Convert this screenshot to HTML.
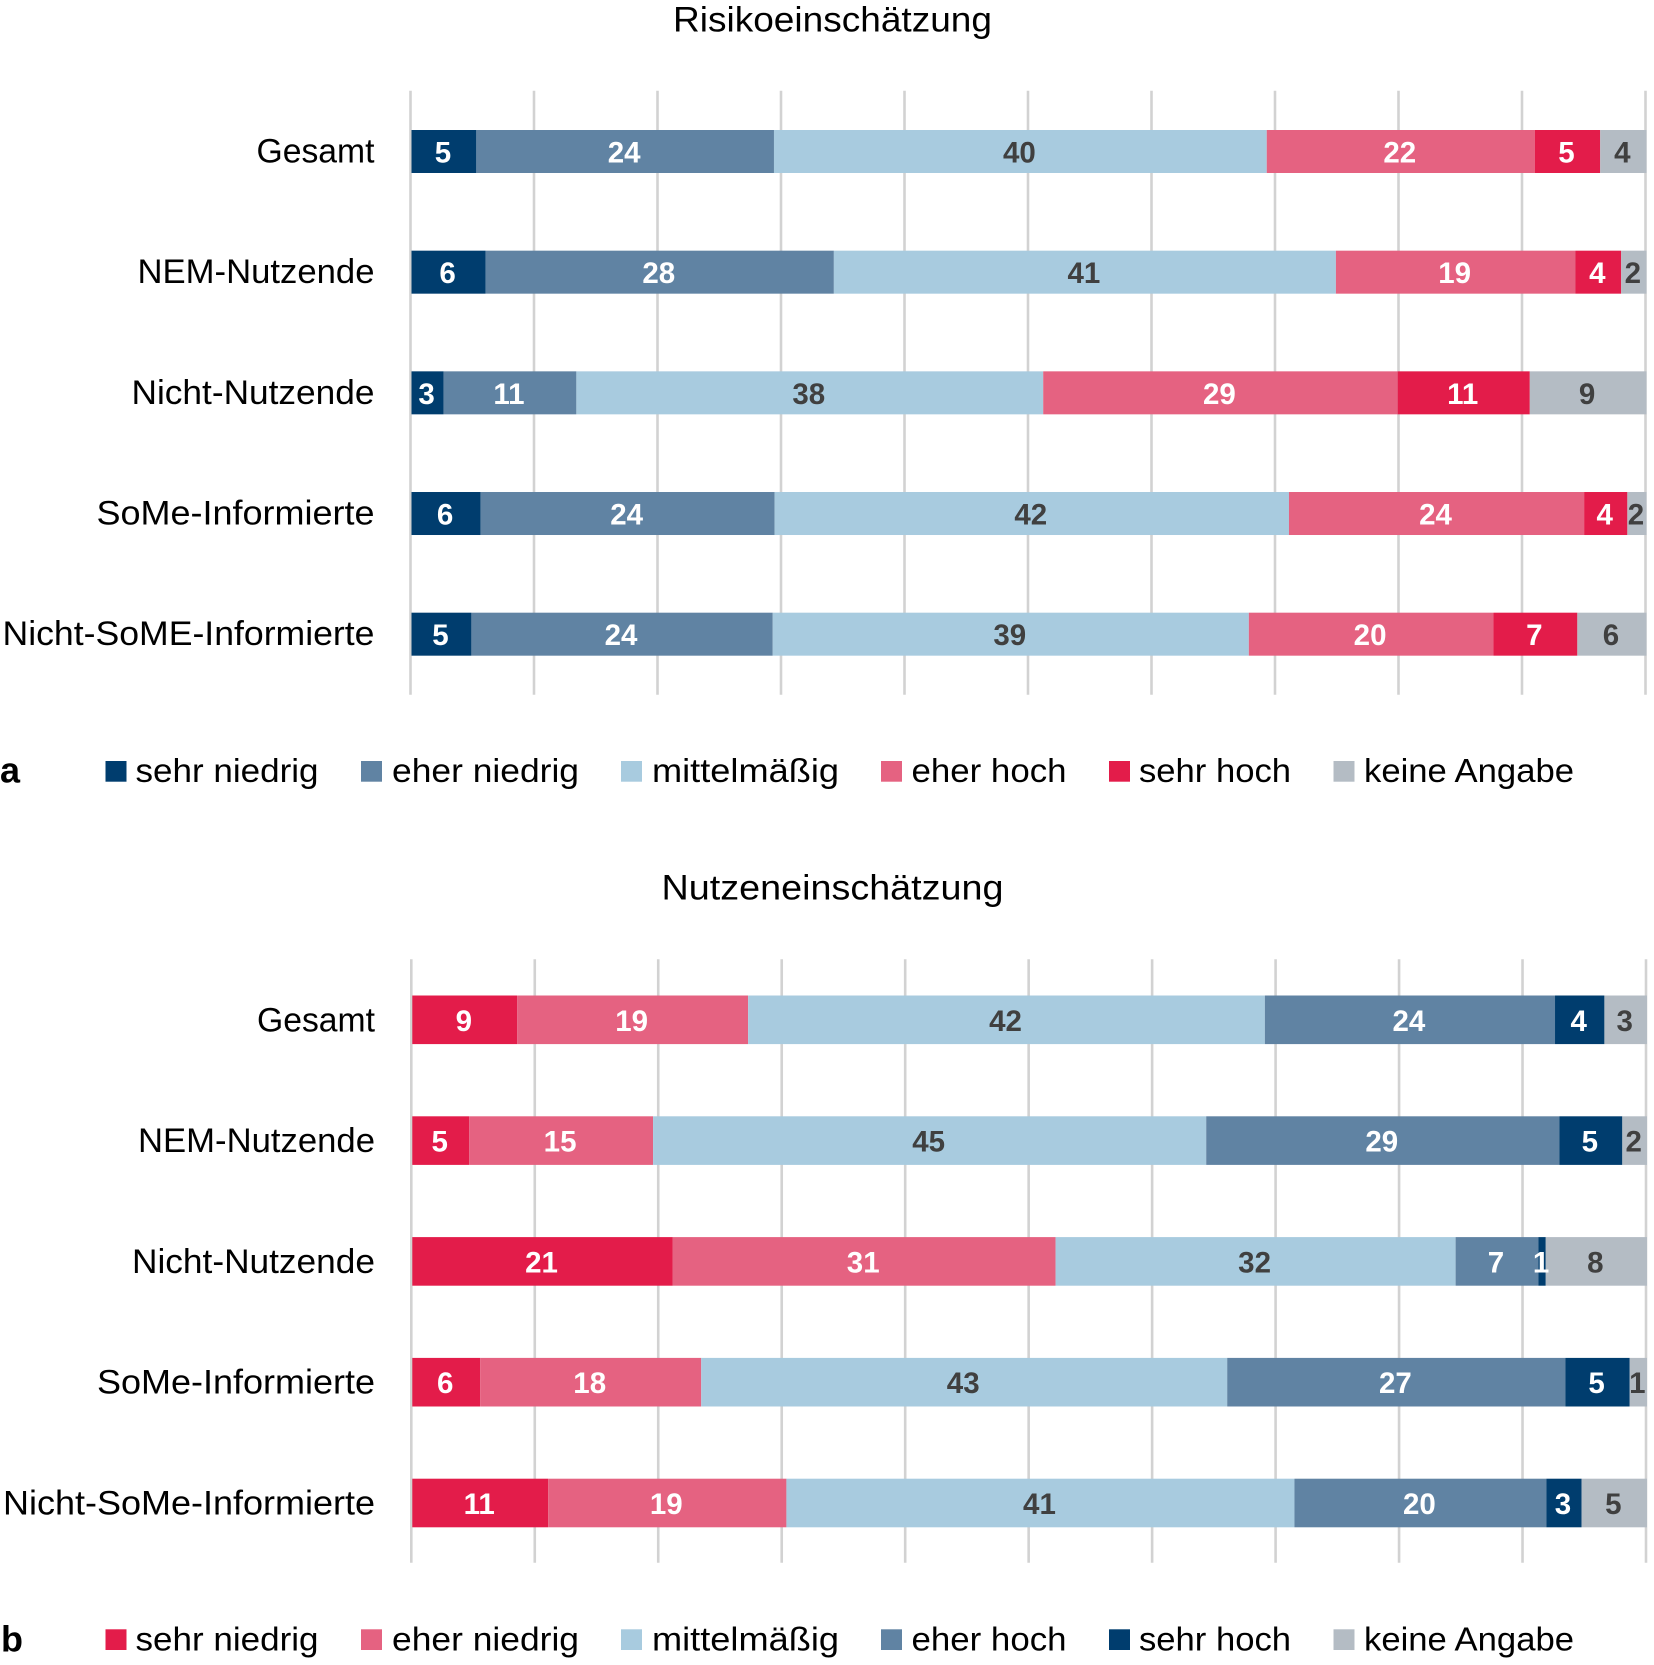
<!DOCTYPE html>
<html lang="de">
<head>
<meta charset="utf-8">
<title>Risiko- und Nutzeneinschätzung</title>
<style>
html,body{margin:0;padding:0;background:#fff;}
svg{display:block;}
text{font-family:"Liberation Sans",sans-serif;}
</style>
</head>
<body>
<svg id="chart" xmlns="http://www.w3.org/2000/svg" width="1654" height="1665" viewBox="0 0 1654 1665">
  <rect x="0" y="0" width="1654" height="1665" fill="#ffffff"/>
  <text x="832.5" y="31.5" font-size="35" fill="#000" text-anchor="middle" textLength="319" lengthAdjust="spacingAndGlyphs">Risikoeinschätzung</text>
  <text x="832.5" y="899.5" font-size="35" fill="#000" text-anchor="middle" textLength="342" lengthAdjust="spacingAndGlyphs">Nutzeneinschätzung</text>
  <text x="0" y="782.5" font-size="36" font-weight="bold" fill="#000">a</text>
  <text x="1" y="1651.5" font-size="36" font-weight="bold" fill="#000">b</text>
  <g id="panel-a"></g>
  <g id="panel-b"></g>
</svg>
<script>
const categoriesA = ["Gesamt", "NEM-Nutzende", "Nicht-Nutzende", "SoMe-Informierte", "Nicht-SoME-Informierte"];
const categoriesB = ["Gesamt", "NEM-Nutzende", "Nicht-Nutzende", "SoMe-Informierte", "Nicht-SoMe-Informierte"];
const xTicks = [0, 10, 20, 30, 40, 50, 60, 70, 80, 90, 100];

const legendNames = ["sehr niedrig", "eher niedrig", "mittelmäßig", "eher hoch", "sehr hoch", "keine Angabe"];

const riskSehrNiedrig = [5.25, 6.0, 2.6, 5.6, 4.85];
const riskEherNiedrig = [24.1, 28.2, 10.75, 23.8, 24.4];
const riskMittel = [39.9, 40.65, 37.8, 41.65, 38.55];
const riskEherHoch = [21.7, 19.4, 28.7, 23.9, 19.8];
const riskSehrHoch = [5.3, 3.7, 10.7, 3.5, 6.8];
const riskKeineAngabe = [3.75, 2.05, 9.45, 1.55, 5.6];

const benefitSehrNiedrig = [8.5, 4.6, 21.1, 5.5, 11.0];
const benefitEherNiedrig = [18.7, 14.9, 31.0, 17.9, 19.3];
const benefitMittel = [41.85, 44.8, 32.4, 42.6, 41.15];
const benefitEherHoch = [23.5, 28.6, 6.7, 27.4, 20.4];
const benefitSehrHoch = [4.0, 5.1, 0.6, 5.2, 2.85];
const benefitKeineAngabe = [3.45, 2.0, 8.2, 1.4, 5.3];

const SVG_NS = "http://www.w3.org/2000/svg";
const NAVY = "#003D6E", STEEL = "#6083A3", LIGHT = "#A8CBDF", PINK = "#E56281", RED = "#E31C4A", GREY = "#B4BCC4";
const WHITE = "#ffffff", DARK = "#404040";

const labelWidth = {
  "Gesamt": 118,
  "NEM-Nutzende": 237,
  "Nicht-Nutzende": 243,
  "SoMe-Informierte": 278,
  "Nicht-SoME-Informierte": 372,
  "Nicht-SoMe-Informierte": 372,
  "sehr niedrig": 183,
  "eher niedrig": 187,
  "mittelmäßig": 187,
  "eher hoch": 155,
  "sehr hoch": 152,
  "keine Angabe": 210
};
const legendSwatchX = [105.5, 361, 621, 881, 1109, 1333.5];
const legendTextX = [135.5, 392, 652, 911.5, 1139, 1364];

function make(tag, attrs, text) {
  const el = document.createElementNS(SVG_NS, tag);
  for (const k in attrs) el.setAttribute(k, attrs[k]);
  if (text !== undefined) el.textContent = text;
  return el;
}

function drawPanel(cfg) {
  const root = document.getElementById(cfg.id);
  const xScale = v => cfg.x0 + v * (cfg.x100 - cfg.x0) / 100;
  const yScale = i => cfg.barTop + i * cfg.barStep;

  xTicks.forEach(t => {
    const line = make("line", {
      x1: cfg.gridOffset + xScale(t), x2: cfg.gridOffset + xScale(t),
      y1: cfg.gridTop, y2: cfg.gridBottom,
      stroke: "#D2D2D2", "stroke-width": 2.6
    });
    
    
    root.appendChild(line);
  });

  cfg.categories.forEach((cat, i) => {
    const lab = make("text", {
      x: cfg.labelRight,
      y: yScale(i) + cfg.catBaseline,
      "font-size": 34,
      fill: "#000",
      "text-anchor": "end",
      textLength: labelWidth[cat],
      lengthAdjust: "spacingAndGlyphs"
    }, cat);
    
    
    root.appendChild(lab);

    let cum = 0;
    cfg.series.forEach(s => {
      const v = s.values[i];
      const x1 = xScale(cum);
      const x2 = xScale(cum + v);
      const rect = make("rect", {
        x: x1, y: yScale(i), width: x2 - x1, height: cfg.barHeight, fill: s.color
      });
      
      
      root.appendChild(rect);
      cum += v;
    });

    cum = 0;
    cfg.series.forEach(s => {
      const v = s.values[i];
      const val = make("text", {
        x: xScale(cum + v / 2) - 1,
        y: yScale(i) + cfg.barHeight / 2 + cfg.valueBaseline,
        "font-size": 29.5,
        "font-weight": "bold",
        fill: s.text,
        "text-anchor": "middle"
      }, String(Math.round(v)));
      
      
      root.appendChild(val);
      cum += v;
    });
  });

  cfg.series.forEach((s, i) => {
    const sw = make("rect", {
      x: legendSwatchX[i], y: cfg.legendTop, width: 21, height: 20.7, fill: s.color
    });
    
    
    root.appendChild(sw);
    const name = legendNames[i];
    const t = make("text", {
      x: legendTextX[i],
      y: cfg.legendBaseline,
      "font-size": 33.5,
      fill: "#000",
      textLength: labelWidth[name],
      lengthAdjust: "spacingAndGlyphs"
    }, name);
    
    
    root.appendChild(t);
  });
}

drawPanel({
  id: "panel-a",
  categories: categoriesA,
  x0: 411.5, x100: 1646.5, gridOffset: -1,
  gridTop: 90.7, gridBottom: 694.7,
  barTop: 130, barStep: 120.67, barHeight: 43,
  labelRight: 374.5, catBaseline: 32.5, valueBaseline: 11,
  legendTop: 761, legendBaseline: 782,
  series: [
    { values: riskSehrNiedrig, color: NAVY, text: WHITE },
    { values: riskEherNiedrig, color: STEEL, text: WHITE },
    { values: riskMittel, color: LIGHT, text: DARK },
    { values: riskEherHoch, color: PINK, text: WHITE },
    { values: riskSehrHoch, color: RED, text: WHITE },
    { values: riskKeineAngabe, color: GREY, text: DARK }
  ]
});

drawPanel({
  id: "panel-b",
  categories: categoriesB,
  x0: 412.3, x100: 1647, gridOffset: -1,
  gridTop: 959.3, gridBottom: 1562.7,
  barTop: 995.5, barStep: 120.8, barHeight: 48.6,
  labelRight: 375, catBaseline: 35.8, valueBaseline: 11,
  legendTop: 1629.3, legendBaseline: 1650.5,
  series: [
    { values: benefitSehrNiedrig, color: RED, text: WHITE },
    { values: benefitEherNiedrig, color: PINK, text: WHITE },
    { values: benefitMittel, color: LIGHT, text: DARK },
    { values: benefitEherHoch, color: STEEL, text: WHITE },
    { values: benefitSehrHoch, color: NAVY, text: WHITE },
    { values: benefitKeineAngabe, color: GREY, text: DARK }
  ]
});
</script>
</body>
</html>
